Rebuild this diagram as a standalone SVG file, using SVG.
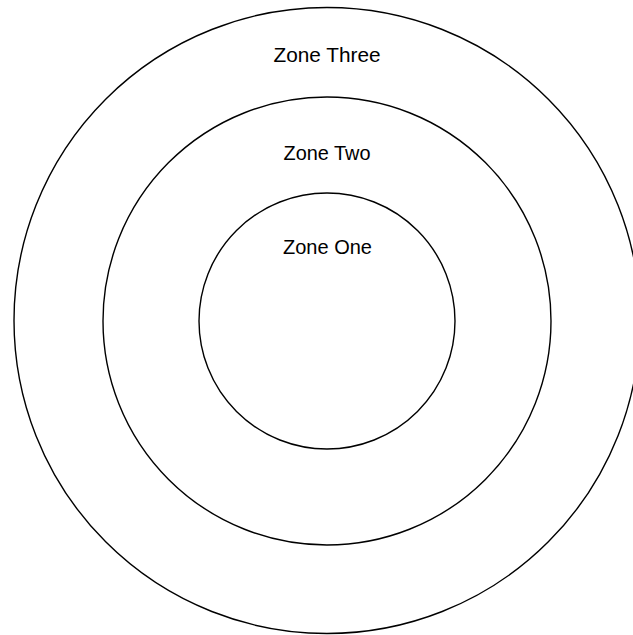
<svg xmlns="http://www.w3.org/2000/svg" width="633" height="635" viewBox="0 0 633 635">
<style>
.ring{fill:none;stroke:#000;stroke-width:1.4}
.lbl{font-family:"Liberation Sans",Arial,sans-serif;font-size:21px;fill:#000;text-anchor:middle}
</style>
<rect width="633" height="635" fill="#fff"/>
<g id="zone-three">
<circle class="ring" cx="327" cy="320.5" r="313"/>
<text class="lbl" x="327" y="62" textLength="107" lengthAdjust="spacingAndGlyphs">Zone Three</text>
</g>
<g id="zone-two">
<circle class="ring" cx="327" cy="321" r="224"/>
<text class="lbl" x="327" y="160" textLength="87" lengthAdjust="spacingAndGlyphs">Zone Two</text>
</g>
<g id="zone-one">
<circle class="ring" cx="327" cy="321" r="128"/>
<text class="lbl" x="327.5" y="254" textLength="89" lengthAdjust="spacingAndGlyphs">Zone One</text>
</g>
<g id="connectors"></g>
</svg>
